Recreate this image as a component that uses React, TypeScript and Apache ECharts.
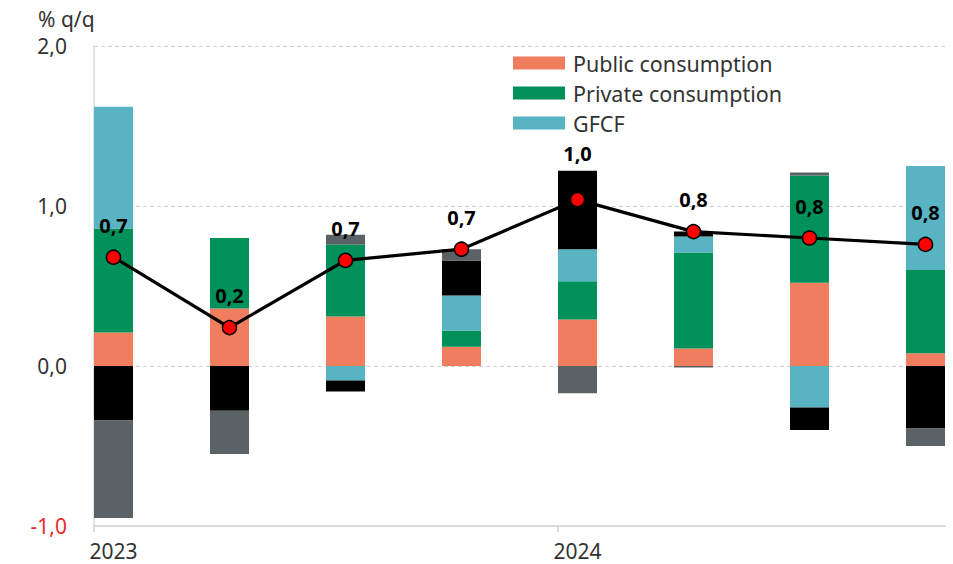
import React, { useEffect, useRef } from 'react';
import * as echarts from 'echarts';

// ---- data ----
const quarters = ['2023 Q1', '2023 Q2', '2023 Q3', '2023 Q4', '2024 Q1', '2024 Q2', '2024 Q3', '2024 Q4'];
const yearLabels = ['2023', '', '', '', '2024', '', '', ''];
const publicConsumption = [0.21, 0.36, 0.31, 0.12, 0.29, 0.11, 0.52, 0.08];
const privateConsumption = [0.65, 0.44, 0.45, 0.1, 0.24, 0.6, 0.67, 0.52];
const gfcf = [0.76, 0, -0.09, 0.22, 0.2, 0.1, -0.26, 0.65];
const inventories = [-0.34, -0.28, -0.07, 0.22, 0.49, 0.03, -0.14, -0.39];
const netExports = [-0.61, -0.27, 0.06, 0.07, -0.17, -0.01, 0.02, -0.11];
const gdp = [0.68, 0.24, 0.66, 0.73, 1.04, 0.84, 0.8, 0.76];
const yTickValues = [-1, 0, 1, 2];
const unitLabel = '% q/q';

const FONT = '"Noto Sans", "Open Sans", sans-serif';
const W = 953;
const H = 564;
const GRID = { left: 94, right: 8, top: 46, bottom: 38 };
const BAR_W = 39;

const fmt = (v: number) => v.toFixed(1).replace('.', ',');

export default function App() {
  const ref = useRef<HTMLDivElement>(null);

  useEffect(() => {
    if (!ref.current) return;
    const chart = echarts.init(ref.current, undefined, { renderer: 'svg' });
    const n = quarters.length;
    const plotW = W - GRID.left - GRID.right;
    const step = (plotW - BAR_W) / (n - 1);
    const half = BAR_W / 2 / step;
    const yearStarts = yearLabels.map((l, i) => (l ? i : -1)).filter((i) => i >= 0);
    const yMin = yTickValues[0];
    const yMax = yTickValues[yTickValues.length - 1];

    const barSeries = [
      { name: 'Public consumption', data: publicConsumption, color: '#F07D5E' },
      { name: 'Private consumption', data: privateConsumption, color: '#00905A' },
      { name: 'GFCF', data: gfcf, color: '#58B4C2' },
      { name: 'Inventories', data: inventories, color: '#000000' },
      { name: 'Net exports', data: netExports, color: '#5B6266' },
    ].map((s) => ({
      name: s.name,
      type: 'bar',
      stack: 'total',
      xAxisIndex: 1,
      yAxisIndex: 1,
      barWidth: BAR_W,
      clip: false,
      itemStyle: { color: s.color },
      data: s.data,
      z: 2,
    }));

    const option: any = {
      animation: false,
      textStyle: { fontFamily: FONT },
      grid: [
        { ...GRID, containLabel: false },
        {
          left: GRID.left + BAR_W / 2,
          right: GRID.right + BAR_W / 2,
          top: GRID.top,
          bottom: GRID.bottom,
          containLabel: false,
        },
      ],
      legend: {
        data: ['Public consumption', 'Private consumption', 'GFCF'],
        orient: 'vertical',
        left: 513,
        top: 52,
        padding: 0,
        itemWidth: 52,
        itemHeight: 13,
        itemGap: 8,
        icon: 'rect',
        selectedMode: false,
        textStyle: { fontSize: 21.5, color: '#333', fontFamily: FONT, padding: [0, 0, 0, 3] },
      },
      graphic: [
        {
          type: 'text',
          left: 38,
          top: 8,
          style: { text: unitLabel, fontSize: 21, fill: '#333', fontFamily: FONT },
        },
      ],
      xAxis: [
        {
          type: 'value',
          gridIndex: 0,
          min: -half,
          max: n - 1 + half,
          interval: 4,
          axisLine: { show: true, onZero: false, lineStyle: { color: '#d9d9d9', width: 2 } },
          axisTick: {
            show: true,
            length: 6,
            customValues: yearStarts.map((i) => i - half),
            lineStyle: { color: '#d9d9d9', width: 2 },
          },
          axisLabel: {
            customValues: yearStarts,
            formatter: (v: number) => yearLabels[Math.round(v)] || '',
            fontSize: 21,
            color: '#333',
            margin: 14,
            fontFamily: FONT,
          },
          splitLine: {
            show: true,
            showMinLine: false,
            showMaxLine: false,
            lineStyle: { color: '#d9d9d9', width: 1.5 },
          },
        },
        {
          type: 'category',
          gridIndex: 1,
          data: quarters,
          boundaryGap: false,
          show: false,
        },
      ],
      yAxis: [
        {
          type: 'value',
          gridIndex: 0,
          min: yMin,
          max: yMax,
          interval: 1,
          axisLine: { show: true, onZero: false, lineStyle: { color: '#d9d9d9', width: 1.5 } },
          axisTick: { show: false },
          axisLabel: {
            formatter: (v: number) => fmt(v),
            fontSize: 21,
            margin: 27,
            color: (v: any) => (Number(v) < 0 ? '#EE2A2A' : '#333'),
            fontFamily: FONT,
          },
          splitLine: { show: true, lineStyle: { type: [4, 3], color: '#cfcfcf', width: 1 } },
        },
        {
          type: 'value',
          gridIndex: 1,
          min: yMin,
          max: yMax,
          interval: 1,
          show: false,
          splitLine: { show: false },
        },
      ],
      series: [
        ...barSeries,
        {
          name: 'GDP',
          type: 'line',
          xAxisIndex: 1,
          yAxisIndex: 1,
          z: 5,
          clip: false,
          symbol: 'circle',
          symbolSize: 14,
          lineStyle: { color: '#000', width: 3.2 },
          itemStyle: { color: '#FF0000', borderColor: '#000', borderWidth: 1.5 },
          label: {
            show: true,
            position: 'top',
            distance: 14,
            fontSize: 20,
            fontWeight: 'bold',
            color: '#000',
            fontFamily: FONT,
            formatter: (p: any) => fmt(Number(p.value)),
          },
          data: gdp.map((v, i) => (i === 4 ? { value: v, label: { offset: [0, -14] } } : v)),
        },
      ],
    };
    chart.setOption(option);
    return () => chart.dispose();
  }, []);

  return (
    <div
      ref={ref}
      style={{ position: 'fixed', left: 0, top: 0, width: W, height: H, background: '#fff' }}
    />
  );
}
